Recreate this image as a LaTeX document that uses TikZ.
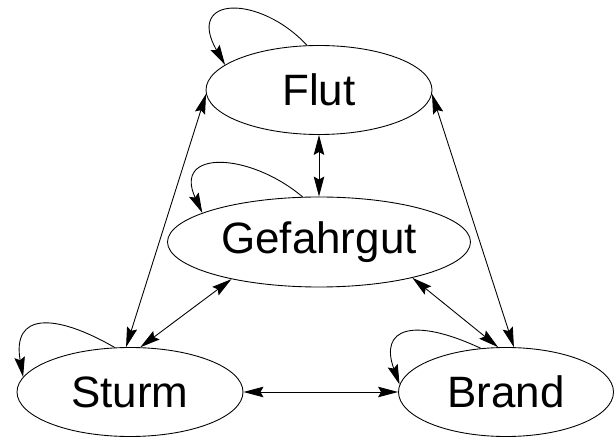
\documentclass[tikz,border=0pt]{standalone}
\usepackage{fontspec}
\setmainfont{Liberation Sans}
\usetikzlibrary{arrows.meta, shapes}

\begin{document}
\begin{tikzpicture}[
    state/.style={draw, ellipse, inner sep=0pt, line width=0.5pt, font=\fontsize{25}{30}\selectfont},
    both/.style={{Stealth[length=4mm, width=2.1mm, inset=0.6mm]}-{Stealth[length=4mm, width=2.1mm, inset=0.6mm]}, line width=0.5pt},
    self/.style={-{Stealth[length=4mm, width=2.1mm, inset=0.6mm]}, line width=0.5pt}
]
    \useasboundingbox (0,0) rectangle (12.28,-8.76);

    % States
    \node[state, minimum width=4.52cm, minimum height=1.78cm] (flut) at (6.38,-1.80) {Flut};
    \node[state, minimum width=6.06cm, minimum height=1.80cm] (gefahr) at (6.38,-4.84) {Gefahrgut};
    \node[state, minimum width=4.52cm, minimum height=1.78cm] (sturm) at (2.60,-7.84) {Sturm};
    \node[state, minimum width=4.30cm, minimum height=1.78cm] (brand) at (10.12,-7.84) {Brand};

    % Transitions
    \draw[both] (flut.182) -- (sturm.95);
    \draw[both] (flut.358) -- (brand.80);
    \draw[both] (flut.south) -- (gefahr.north);
    \draw[both] (gefahr.203) -- (sturm.77);
    \draw[both] (gefahr.339) -- (brand.100);
    \draw[both] (sturm.east) -- (brand.west);

    % Self loops
    \draw[self] (flut.105) to[out=133, in=120, out distance=1.4cm, in distance=1.6cm] (flut.165);
    \draw[self] (gefahr.110) to[out=140, in=115, out distance=1.4cm, in distance=1.4cm] (gefahr.166);
    \draw[self] (sturm.109) to[out=150, in=100, out distance=1.4cm, in distance=1.3cm] (sturm.172);
    \draw[self] (brand.120) to[out=155, in=110, out distance=1.5cm, in distance=1.2cm] (brand.176);
\end{tikzpicture}
\end{document}
